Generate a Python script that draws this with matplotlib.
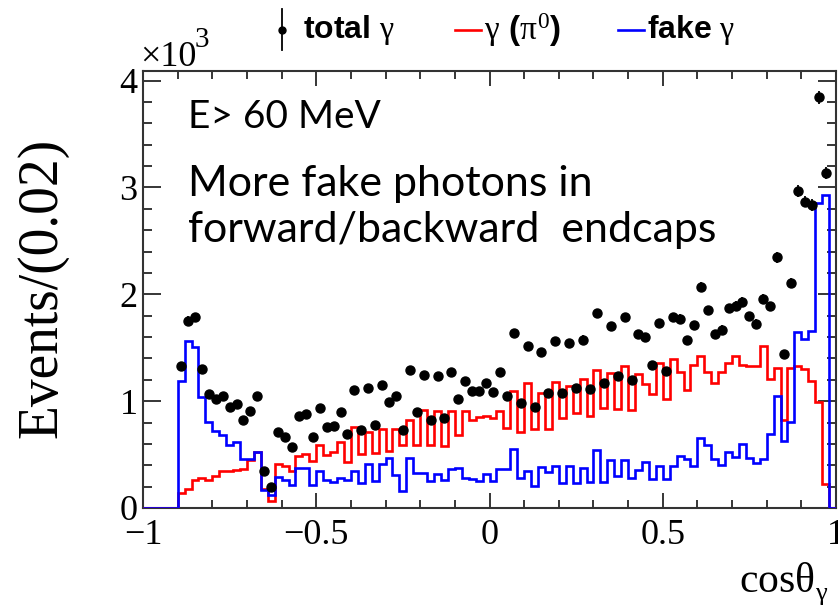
import numpy as np
import matplotlib
matplotlib.use("Agg")
import matplotlib.pyplot as plt
from matplotlib.lines import Line2D
from matplotlib.ticker import MultipleLocator, FuncFormatter

# cos(theta_gamma) histogram, 100 bins of 0.02 from -1 to 1
edges = np.linspace(-1.0, 1.0, 101)

# gamma from pi0 (red)
pi0_gamma = [0, 0, 0, 0, 0,
             140, 179, 266, 283, 266, 299, 350, 350, 360, 369,
             453, 527, 180, 68, 415, 397, 342, 485, 510, 442,
             591, 497, 528, 622, 432, 762, 505, 715, 516, 740,
             530, 740, 587, 821, 590, 913, 585, 908, 584, 911,
             687, 911, 822, 849, 858, 843, 911, 745, 1092, 709,
             1170, 740, 1076, 740, 1176, 843, 1139, 890, 1207, 865,
             1288, 936, 1263, 927, 1332, 921, 1257, 1164, 1067, 1357,
             1020, 1390, 1270, 1101, 1341, 1425, 1270, 1174, 1270, 1357,
             1425, 1341, 1326, 1326, 1513, 1207, 1310, 820, 1310, 1332,
             1301, 1186, 989, 229, 0]

# fake gamma (blue)
fake_gamma = [0, 0, 0, 0, 0,
              1185, 1559, 1506, 1036, 802, 718, 687, 593, 619, 458,
              458, 528, 172, 124, 287, 264, 218, 373, 373, 218,
              342, 261, 239, 280, 260, 348, 231, 412, 251, 412,
              465, 310, 157, 466, 329, 324, 250, 322, 266, 366,
              375, 282, 273, 250, 319, 250, 366, 366, 553, 282,
              344, 204, 388, 334, 391, 235, 397, 235, 375, 241,
              540, 241, 447, 297, 447, 282, 360, 428, 273, 391,
              273, 397, 484, 461, 391, 656, 585, 461, 407, 523,
              479, 595, 470, 423, 461, 688, 1046, 625, 802, 1643,
              1581, 1653, 2858, 2930, 0]

# total gamma (points), nan = empty bin
total_gamma = [np.nan, np.nan, np.nan, np.nan, np.nan,
               1332, 1752, 1786, 1303, 1067, 1023, 1044, 942, 973, 827,
               911, 1044, 350, 198, 712, 662, 568, 858, 880, 662,
               933, 755, 764, 901, 690, 1107, 733, 1123, 774, 1148,
               989, 1044, 734, 1294, 900, 1241, 827, 1232, 846, 1269,
               1020, 1190, 1095, 1095, 1173, 1084, 1269, 1045, 1637, 983,
               1512, 942, 1456, 1076, 1559, 1076, 1543, 1120, 1575, 1114,
               1824, 1171, 1700, 1232, 1787, 1201, 1628, 1597, 1341, 1731,
               1285, 1784, 1771, 1569, 1709, 2073, 1850, 1630, 1668, 1869,
               1891, 1932, 1793, 1724, 1958, 1887, 2345, 1441, 2105, 2967,
               2868, 2836, 3843, 3138, np.nan]

plt.rcParams['font.family'] = ['Liberation Serif', 'DejaVu Serif']
plt.rcParams['mathtext.fontset'] = 'custom'
plt.rcParams['mathtext.rm'] = 'Liberation Serif'
plt.rcParams['mathtext.it'] = 'Liberation Serif'
plt.rcParams['mathtext.bf'] = 'Liberation Sans:bold'

W, H = 838, 607
fig = plt.figure(figsize=(W / 100, H / 100), dpi=100)


def fx(px):
    return px / W


def fy(py):
    return 1 - py / H


ax = fig.add_axes([fx(143), fy(508), fx(836) - fx(143), fy(71) - fy(508)])

centers = 0.5 * (edges[:-1] + edges[1:])
tot = np.array(total_gamma, dtype=float)
ok = ~np.isnan(tot)

ax.stairs(pi0_gamma, edges, color='#ff0000', lw=1.9, baseline=0, zorder=3)
ax.stairs(fake_gamma, edges, color='#0000ff', lw=1.9, baseline=0, zorder=3.1)
ax.errorbar(centers[ok], tot[ok], yerr=np.sqrt(tot[ok]), fmt='o', color='black',
            ms=6.5, elinewidth=1.3, capsize=0, zorder=5)

ax.set_xlim(-1, 1)
ax.set_ylim(0, 4090)
ax.xaxis.set_major_locator(MultipleLocator(0.5))
ax.xaxis.set_minor_locator(MultipleLocator(0.1))
ax.yaxis.set_major_locator(MultipleLocator(1000))
ax.yaxis.set_minor_locator(MultipleLocator(200))
ax.xaxis.set_major_formatter(FuncFormatter(lambda v, p: ('%g' % v).replace('-', '\u2212')))
ax.yaxis.set_major_formatter(FuncFormatter(lambda v, p: '%d' % round(v / 1000)))
ax.tick_params(which='both', direction='in', top=True, right=True, width=1.1,
               labelsize=26, colors='black')
ax.tick_params(axis='x', which='major', length=11, pad=8)
ax.tick_params(axis='x', which='minor', length=6)
ax.tick_params(axis='y', which='major', length=13, pad=4)
ax.tick_params(axis='y', which='minor', length=6.5)
for s in ax.spines.values():
    s.set_linewidth(1.5)
    s.set_color('#333333')

# axis titles
fig.text(fx(42), fy(288), 'Events/(0.02)', rotation=90, ha='center', va='center', fontsize=40)
fig.text(fx(815), fy(582), r'cos$\theta$', ha='right', va='center', fontsize=30)
fig.text(fx(815), fy(596), r'$\gamma$', ha='left', va='center', fontsize=19)
fig.text(fx(140), fy(66), '\u00d710', ha='left', va='baseline', fontsize=26)
fig.text(fx(195), fy(47), '3', ha='left', va='baseline', fontsize=21)

# legend
fig.add_artist(Line2D([fx(282), fx(282)], [fy(9), fy(50)], color='black', lw=1.3))
fig.add_artist(Line2D([fx(282)], [fy(30)], marker='o', color='black', ms=5))
fig.text(fx(303), fy(30), r'total $\gamma$', ha='left', va='center', fontsize=23,
         family='Liberation Sans', weight='bold')
fig.add_artist(Line2D([fx(455), fx(481)], [fy(30), fy(30)], color='#ff0000', lw=1.9))
fig.text(fx(484), fy(30), r'$\gamma$ ($\pi^{0}$)', ha='left', va='center', fontsize=24,
         family='Liberation Sans', weight='bold')
fig.add_artist(Line2D([fx(618), fx(644)], [fy(30), fy(30)], color='#0000ff', lw=1.9))
fig.text(fx(647), fy(30), r'fake $\gamma$', ha='left', va='center', fontsize=23,
         family='Liberation Sans', weight='bold')

# annotations
fig.text(fx(188), fy(117), 'E> 60 MeV', ha='left', va='center', fontsize=28, family='Lato')
fig.text(fx(188), fy(184), 'More fake photons in', ha='left', va='center', fontsize=31, family='Lato')
fig.text(fx(188), fy(230), 'forward/backward  endcaps', ha='left', va='center', fontsize=31, family='Lato')

fig.savefig('out.png', dpi=100)
